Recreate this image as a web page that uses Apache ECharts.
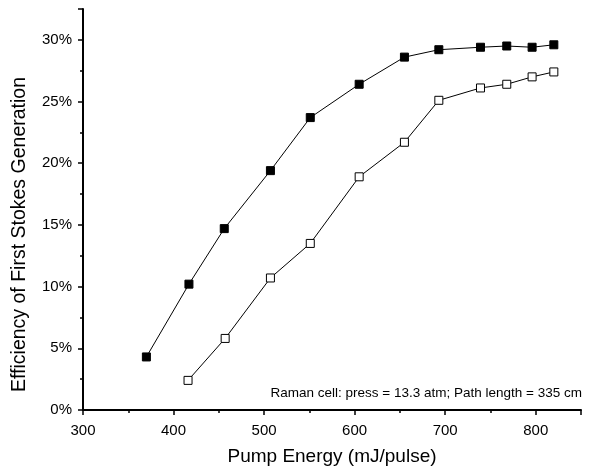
<!DOCTYPE html>
<html>
<head>
<meta charset="utf-8">
<script src="https://cdn.jsdelivr.net/npm/echarts@6/dist/echarts.min.js"></script>
<style>
  html, body { margin: 0; padding: 0; background: #fff; }
  #chart { width: 589px; height: 468px; }
</style>
</head>
<body>
<div id="chart"></div>
<script>
// pump energy (mJ/pulse) and first Stokes efficiency (%)
const filledX = [370, 417, 456, 507, 551, 605, 655, 693, 739, 768, 796, 820];
const filledY = [4.3, 10.2, 14.7, 19.4, 23.7, 26.4, 28.6, 29.2, 29.4, 29.5, 29.4, 29.6];
const openX = [416, 457, 507, 551, 605, 655, 693, 739, 768, 796, 820];
const openY = [2.4, 5.8, 10.7, 13.5, 18.9, 21.7, 25.1, 26.1, 26.4, 27.0, 27.4];
const noteText = "Raman cell: press = 13.3 atm; Path length = 335 cm";

const pairs = (xs, ys) => xs.map((x, i) => [x, ys[i]]);

const font = "Liberation Sans, Arial, sans-serif";
const chart = echarts.init(document.getElementById("chart"));

chart.setOption({
  animation: false,
  backgroundColor: "#fff",
  grid: { left: 83, right: 8, top: 9, bottom: 58, outerBoundsMode: "none" },
  xAxis: {
    type: "value",
    min: 300,
    max: 850,
    interval: 100,
    name: "Pump Energy (mJ/pulse)",
    nameLocation: "middle",
    nameGap: 37,
    nameTextStyle: { fontFamily: font, fontSize: 19, color: "#000" },
    axisLine: { lineStyle: { color: "#000", width: 2 } },
    axisTick: { length: 5, lineStyle: { color: "#000", width: 1.5 } },
    minorTick: { show: true, splitNumber: 2, length: 3, lineStyle: { color: "#000", width: 1.5 } },
    axisLabel: {
      fontFamily: font, fontSize: 15, color: "#000", margin: 13,
      formatter: v => (v > 800 ? "" : v)
    },
    splitLine: { show: false }
  },
  yAxis: {
    type: "value",
    min: 0,
    max: 32.5,
    interval: 5,
    axisLine: { show: true, lineStyle: { color: "#000", width: 2 } },
    axisTick: { show: true, length: 5, lineStyle: { color: "#000", width: 1.5 } },
    minorTick: { show: true, splitNumber: 2, length: 3, lineStyle: { color: "#000", width: 1.5 } },
    axisLabel: {
      fontFamily: font, fontSize: 15, color: "#000", margin: 11,
      formatter: v => (v > 30 ? "" : v + "%")
    },
    splitLine: { show: false }
  },
  graphic: [
    {
      type: "text",
      left: 10,
      top: 77,
      style: {
        text: "Efficiency of First Stokes Generation",
        font: "19.5px " + font,
        fill: "#000"
      },
      rotation: Math.PI / 2,
      originX: 0,
      originY: 0
    },
    {
      type: "text",
      right: 7,
      top: 386,
      style: { text: noteText, font: "13.5px " + font, fill: "#000" }
    }
  ],
  series: [
    {
      type: "line",
      data: pairs(filledX, filledY),
      symbol: "rect",
      symbolSize: 8,
      lineStyle: { color: "#000", width: 1 },
      itemStyle: { color: "#000", borderColor: "#000", borderWidth: 1 }
    },
    {
      type: "line",
      data: pairs(openX, openY),
      symbol: "rect",
      symbolSize: 8,
      lineStyle: { color: "#000", width: 1 },
      itemStyle: { color: "#fff", borderColor: "#000", borderWidth: 1 }
    }
  ]
});
</script>
</body>
</html>
